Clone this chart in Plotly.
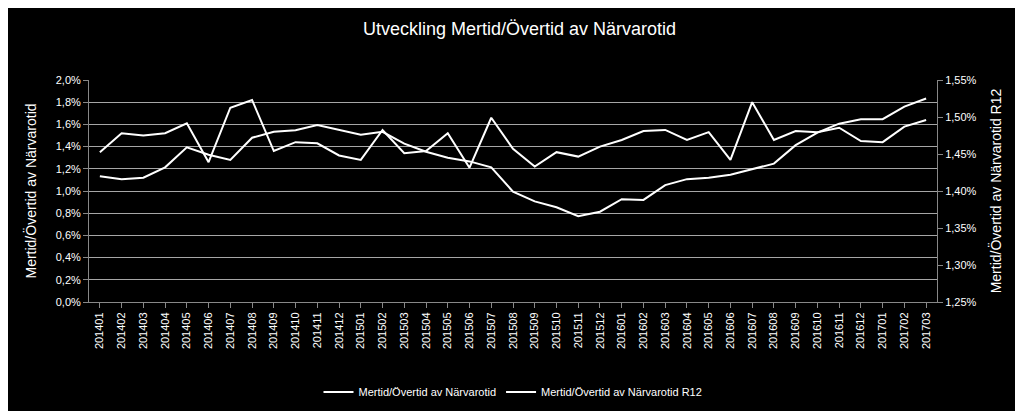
import plotly.graph_objects as go

months = ["201401","201402","201403","201404","201405","201406","201407","201408","201409","201410","201411","201412",
          "201501","201502","201503","201504","201505","201506","201507","201508","201509","201510","201511","201512",
          "201601","201602","201603","201604","201605","201606","201607","201608","201609","201610","201611","201612",
          "201701","201702","201703"]
monthly = [1.35,1.52,1.50,1.52,1.61,1.26,1.75,1.82,1.36,1.44,1.43,1.32,
           1.28,1.55,1.34,1.36,1.52,1.21,1.66,1.38,1.22,1.35,1.31,1.40,
           1.46,1.54,1.55,1.46,1.53,1.28,1.80,1.46,1.54,1.53,1.57,1.45,
           1.44,1.58,1.64]
r12 = [1.420,1.416,1.418,1.432,1.459,1.449,1.442,1.472,1.480,1.482,1.489,1.483,
       1.476,1.480,1.464,1.453,1.445,1.440,1.432,1.399,1.386,1.378,1.366,1.372,
       1.389,1.388,1.408,1.416,1.418,1.422,1.430,1.437,1.462,1.479,1.491,1.497,
       1.497,1.514,1.525]
label_idx = [2, 13, 26, 38]
label_text = ["1,4%", "1,5%", "1,4%", "1,5%"]
left_ticks = [0.0,0.2,0.4,0.6,0.8,1.0,1.2,1.4,1.6,1.8,2.0]
right_ticks = [1.25,1.30,1.35,1.40,1.45,1.50,1.55]

fig = go.Figure()
fig.add_trace(go.Scatter(x=months, y=monthly, mode="lines", name="Mertid/Övertid av Närvarotid",
                         line=dict(color="white", width=2)))
fig.add_trace(go.Scatter(x=months, y=r12, mode="lines", name="Mertid/Övertid av Närvarotid R12",
                         line=dict(color="white", width=2), yaxis="y2"))
for i, t in zip(label_idx, label_text):
    fig.add_annotation(x=months[i], y=r12[i], yref="y2", text=t, showarrow=False, yshift=16,
                       font=dict(color="#d9d9d9", size=12))
font = "Liberation Sans"
fig.update_layout(
    width=1023, height=411, paper_bgcolor="black", plot_bgcolor="black",
    margin=dict(l=81, r=94, t=72, b=99),
    font=dict(family=font, color="white", size=11),
    title=dict(text="Utveckling Mertid/Övertid av Närvarotid", x=0.5, xanchor="center", y=0.965,
               font=dict(size=18, color="white")),
    xaxis=dict(tickangle=-90, showgrid=False, showline=True, linecolor="#888", ticks="outside",
               tickcolor="#888", tickfont=dict(size=11), range=[-0.5, 38.5]),
    yaxis=dict(range=[0, 2.0], tickvals=left_ticks, ticktext=[f"{v:.1f}%".replace(".", ",") for v in left_ticks],
               gridcolor="#a6a6a6", gridwidth=1, showline=True, linecolor="#888", ticks="outside", tickcolor="#888",
               title=dict(text="Mertid/Övertid av Närvarotid", font=dict(size=14)), zeroline=False),
    yaxis2=dict(range=[1.25, 1.55], overlaying="y", side="right", tickvals=right_ticks,
                ticktext=[f"{v:.2f}%".replace(".", ",") for v in right_ticks], showgrid=False,
                showline=True, linecolor="#888", ticks="outside", tickcolor="#888",
                title=dict(text="Mertid/Övertid av Närvarotid R12", font=dict(size=14)), zeroline=False),
    legend=dict(orientation="h", x=0.5, xanchor="center", y=-0.34, yanchor="top",
                font=dict(size=11), bgcolor="rgba(0,0,0,0)"),
)
fig.write_html("out.html")
